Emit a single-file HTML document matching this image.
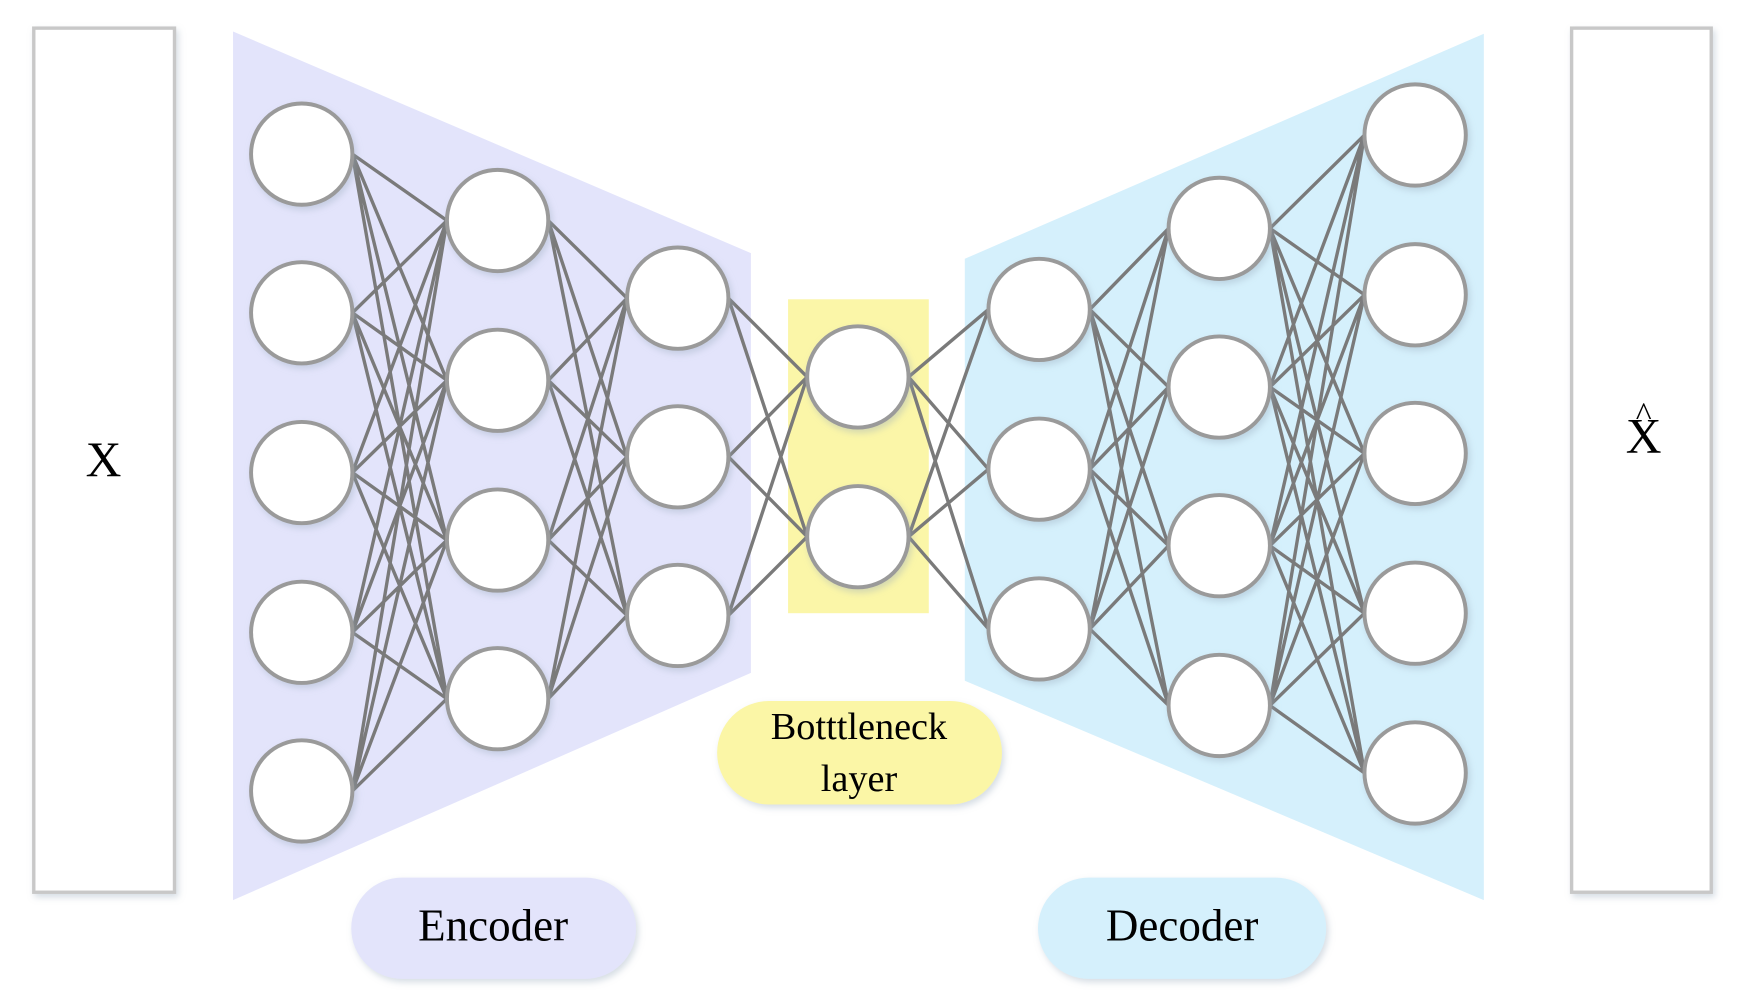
<!DOCTYPE html>
<html><head><meta charset="utf-8"><style>html,body{margin:0;padding:0;background:#fff}svg{display:block}</style></head>
<body>
<svg width="1745" height="1007" viewBox="0 0 1550 895" preserveAspectRatio="none" xmlns="http://www.w3.org/2000/svg">
<defs><filter id="sh" x="-20%" y="-20%" width="140%" height="140%"><feDropShadow dx="2" dy="3" stdDeviation="3" flood-color="#9ab" flood-opacity="0.4"/></filter></defs>
<rect x="30" y="25" width="125" height="768" fill="#fff" stroke="#c8c8c8" stroke-width="3" filter="url(#sh)"/>
<rect x="1396" y="25" width="124" height="768" fill="#fff" stroke="#c8c8c8" stroke-width="3" filter="url(#sh)"/>
<polygon points="207,28 667,225 667,598 207,800" fill="#e3e4fb"/>
<polygon points="857,230 1318,30 1318,800 857,605" fill="#d5f0fc"/>
<rect x="700" y="266" width="125" height="279" fill="#fbf6a8"/>
<rect x="637" y="623" width="253" height="92" rx="46" fill="#fbf6a6" filter="url(#sh)"/>
<rect x="312" y="780" width="253" height="90" rx="45" fill="#e3e4fb" filter="url(#sh)"/>
<rect x="922" y="780" width="256" height="90" rx="45" fill="#d5f0fc" filter="url(#sh)"/>
<g stroke="#7a7a7a" stroke-width="3" fill="none">
<path d="M313 137L397 196M313 137L397 338M313 137L397 480M313 137L397 621M313 278L397 196M313 278L397 338M313 278L397 480M313 278L397 621M313 420L397 196M313 420L397 338M313 420L397 480M313 420L397 621M313 562L397 196M313 562L397 338M313 562L397 480M313 562L397 621M313 703L397 196M313 703L397 338M313 703L397 480M313 703L397 621"/>
<path d="M487 196L557 265M487 196L557 406M487 196L557 547M487 338L557 265M487 338L557 406M487 338L557 547M487 480L557 265M487 480L557 406M487 480L557 547M487 621L557 265M487 621L557 406M487 621L557 547"/>
<path d="M647 265L717 335M647 265L717 477M647 406L717 335M647 406L717 477M647 547L717 335M647 547L717 477"/>
<path d="M807 335L878 275M807 335L878 417M807 335L878 559M807 477L878 275M807 477L878 417M807 477L878 559"/>
<path d="M968 275L1038 203M968 275L1038 344M968 275L1038 485M968 275L1038 627M968 417L1038 203M968 417L1038 344M968 417L1038 485M968 417L1038 627M968 559L1038 203M968 559L1038 344M968 559L1038 485M968 559L1038 627"/>
<path d="M1128 203L1212 120M1128 203L1212 262M1128 203L1212 403M1128 203L1212 545M1128 203L1212 687M1128 344L1212 120M1128 344L1212 262M1128 344L1212 403M1128 344L1212 545M1128 344L1212 687M1128 485L1212 120M1128 485L1212 262M1128 485L1212 403M1128 485L1212 545M1128 485L1212 687M1128 627L1212 120M1128 627L1212 262M1128 627L1212 403M1128 627L1212 545M1128 627L1212 687"/>
</g>
<g fill="#fff" stroke="#9a9a9a" stroke-width="3.5" filter="url(#sh)">
<circle cx="268" cy="137" r="45"/><circle cx="268" cy="278" r="45"/><circle cx="268" cy="420" r="45"/><circle cx="268" cy="562" r="45"/><circle cx="268" cy="703" r="45"/>
<circle cx="442" cy="196" r="45"/><circle cx="442" cy="338" r="45"/><circle cx="442" cy="480" r="45"/><circle cx="442" cy="621" r="45"/>
<circle cx="602" cy="265" r="45"/><circle cx="602" cy="406" r="45"/><circle cx="602" cy="547" r="45"/>
<circle cx="762" cy="335" r="45"/><circle cx="762" cy="477" r="45"/>
<circle cx="923" cy="275" r="45"/><circle cx="923" cy="417" r="45"/><circle cx="923" cy="559" r="45"/>
<circle cx="1083" cy="203" r="45"/><circle cx="1083" cy="344" r="45"/><circle cx="1083" cy="485" r="45"/><circle cx="1083" cy="627" r="45"/>
<circle cx="1257" cy="120" r="45"/><circle cx="1257" cy="262" r="45"/><circle cx="1257" cy="403" r="45"/><circle cx="1257" cy="545" r="45"/><circle cx="1257" cy="687" r="45"/>
</g>
<g font-family="Liberation Serif, serif" fill="#000" text-anchor="middle">
<text x="92" y="423" font-size="44">X</text>
<text x="1460" y="402" font-size="44">X</text>
<text x="1460" y="378" font-size="30">^</text>
<text x="763" y="657" font-size="34">Botttleneck</text>
<text x="763" y="703" font-size="34">layer</text>
<text x="438" y="836" font-size="40">Encoder</text>
<text x="1050" y="836" font-size="40">Decoder</text>
</g>
</svg>
</body></html>
